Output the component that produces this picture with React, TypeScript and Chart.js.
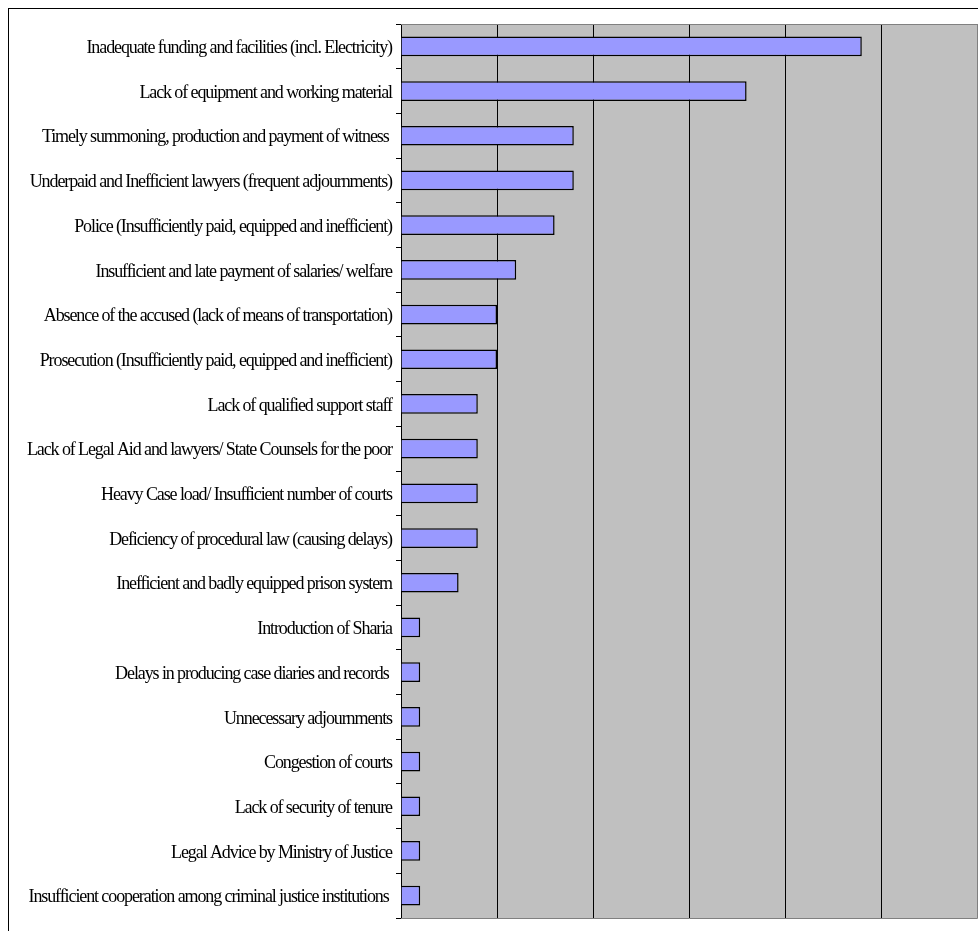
import React, { useEffect, useRef } from "react";
import { Chart, registerables } from "chart.js";

Chart.register(...registerables);

const categories: string[] = [
  "Inadequate funding and facilities (incl. Electricity)",
  "Lack of equipment and working material",
  "Timely summoning, production and payment of witness ",
  "Underpaid and Inefficient lawyers (frequent adjournments)",
  "Police (Insufficiently paid, equipped and inefficient)",
  "Insufficient and late payment of salaries/ welfare",
  "Absence of the accused (lack of means of transportation)",
  "Prosecution (Insufficiently paid, equipped and inefficient)",
  "Lack of qualified support staff",
  "Lack of Legal Aid and lawyers/ State Counsels for the poor",
  "Heavy Case load/ Insufficient number of courts",
  "Deficiency of procedural law (causing delays)",
  "Inefficient and badly equipped prison system",
  "Introduction of Sharia",
  "Delays in producing case diaries and records ",
  "Unnecessary adjournments",
  "Congestion of courts",
  "Lack of security of tenure",
  "Legal Advice by Ministry of Justice",
  "Insufficient cooperation among criminal justice institutions ",
];

const values: number[] = [24, 18, 9, 9, 8, 6, 5, 5, 4, 4, 4, 4, 3, 1, 1, 1, 1, 1, 1, 1];

const xMin = 0;
const xMax = 30;
const xStep = 5;

const LABEL_FONT_SIZE = 18;
const LABEL_LETTER_SPACING = "-1.1px";

const plotBgPlugin = {
  id: "plotBg",
  beforeDraw(chart: any) {
    const { ctx, chartArea } = chart;
    ctx.save();
    ctx.fillStyle = "#C0C0C0";
    ctx.fillRect(chartArea.left, chartArea.top, chartArea.right - chartArea.left, chartArea.bottom - chartArea.top);
    ctx.restore();
  },
  afterDraw(chart: any) {
    const { ctx, chartArea } = chart;
    ctx.save();
    ctx.strokeStyle = "#808080";
    ctx.lineWidth = 1;
    ctx.beginPath();
    ctx.moveTo(chartArea.left, chartArea.top + 0.5);
    ctx.lineTo(chartArea.right + 0.5, chartArea.top + 0.5);
    ctx.lineTo(chartArea.right + 0.5, chartArea.bottom + 0.5);
    ctx.lineTo(chartArea.left, chartArea.bottom + 0.5);
    ctx.stroke();
    const yScale = chart.scales.y;
    ctx.fillStyle = "#000000";
    ctx.font = `${LABEL_FONT_SIZE}px "Liberation Serif", "Times New Roman", serif`;
    try {
      (ctx as any).letterSpacing = LABEL_LETTER_SPACING;
    } catch (e) {}
    ctx.textAlign = "right";
    ctx.textBaseline = "middle";
    const labels: string[] = chart.data.labels;
    labels.forEach((label, i) => {
      const y = yScale.getPixelForValue(i);
      ctx.fillText(label, chartArea.left - 9, y + 2);
    });
    ctx.restore();
  },
};

export default function App() {
  const canvasRef = useRef<HTMLCanvasElement | null>(null);

  useEffect(() => {
    document.body.style.margin = "0";
    document.body.style.overflow = "hidden";
    if (!canvasRef.current) return;
    const chart = new Chart(canvasRef.current, {
      type: "bar",
      data: {
        labels: categories,
        datasets: [
          {
            data: values,
            backgroundColor: "#9999FF",
            borderColor: "#000000",
            borderWidth: 1.5,
            barPercentage: 0.44,
            categoryPercentage: 1,
          },
        ],
      },
      options: {
        indexAxis: "y",
        animation: false,
        responsive: false,
        maintainAspectRatio: false,
        layout: { padding: { top: 15, right: 1, bottom: 13, left: 0 } },
        plugins: {
          legend: { display: false },
          tooltip: { enabled: false },
          title: { display: false },
        },
        scales: {
          x: {
            type: "linear",
            min: xMin,
            max: xMax,
            ticks: { display: false, stepSize: xStep },
            grid: {
              drawTicks: false,
              color: (c: any) => (c.tick && c.tick.value === xMax ? "#808080" : "#000000"),
              lineWidth: 1,
            },
            border: { display: false },
            afterFit: (scale: any) => {
              scale.height = 0;
            },
          },
          y: {
            type: "category",
            ticks: { display: false },
            grid: {
              offset: true,
              drawOnChartArea: false,
              drawTicks: true,
              tickLength: 5,
              color: "#000000",
            },
            border: { display: true, color: "#000000", width: 1 },
            afterFit: (scale: any) => {
              scale.width = 392;
            },
          },
        },
      },
      plugins: [plotBgPlugin],
    });
    return () => chart.destroy();
  }, []);

  return (
    <div style={{ width: 978, height: 931, overflow: "hidden", boxSizing: "border-box", paddingLeft: 8, paddingTop: 8 }}>
      <div
        style={{
          width: 970,
          height: 923,
          boxSizing: "border-box",
          borderLeft: "1px solid #000",
          borderTop: "1px solid #000",
          overflow: "hidden",
        }}
      >
        <canvas ref={canvasRef} width={969} height={922} style={{ display: "block", width: 969, height: 922 }} />
      </div>
    </div>
  );
}
